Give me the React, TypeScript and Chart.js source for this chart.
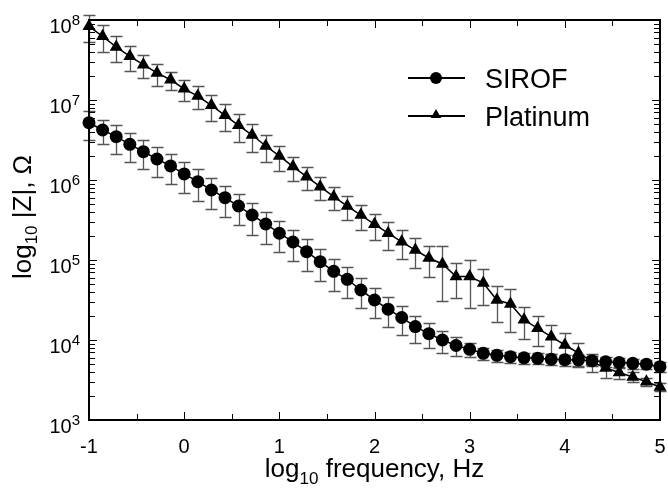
import React, { useEffect, useRef } from 'react';
import { Chart, registerables } from 'chart.js';

Chart.register(...registerables);

// log10 of frequency (Hz), 7 points per decade
const logFreq = [
  -1, -0.857, -0.714, -0.571, -0.429, -0.286, -0.143,
  0, 0.143, 0.286, 0.429, 0.571, 0.714, 0.857,
  1, 1.143, 1.286, 1.429, 1.571, 1.714, 1.857,
  2, 2.143, 2.286, 2.429, 2.571, 2.714, 2.857,
  3, 3.143, 3.286, 3.429, 3.571, 3.714, 3.857,
  4, 4.143, 4.286, 4.429, 4.571, 4.714, 4.857,
  5,
];

// |Z| in ohms
const sirofZ = [
  5.2e6, 4.22e6, 3.48e6, 2.79e6, 2.26e6, 1.83e6, 1.5e6,
  1.19e6, 9.53e5, 7.5e5, 6.01e5, 4.73e5, 3.65e5, 2.82e5,
  2.16e5, 1.68e5, 1.27e5, 9.53e4, 7.22e4, 5.74e4, 4.22e4,
  3.16e4, 2.43e4, 1.91e4, 1.47e4, 1.2e4, 1.0e4, 8530,
  7650, 6820, 6440, 6180, 5990, 5900, 5750,
  5670, 5620, 5510, 5350, 5230, 5110, 4980,
  4640,
];
// relative standard deviation (fraction of mean)
const sirofRelSD = [
  0.40, 0.33, 0.40, 0.40, 0.40, 0.40, 0.41,
  0.42, 0.42, 0.42, 0.42, 0.42, 0.43, 0.43,
  0.42, 0.42, 0.43, 0.43, 0.43, 0.42, 0.41,
  0.41, 0.41, 0.39, 0.37, 0.34, 0.31, 0.27,
  0.21, 0.18, 0.17, 0.16, 0.16, 0.16, 0.16,
  0.16, 0.16, 0.14, 0.14, 0.14, 0.14, 0.14,
  0.14,
];

const platinumZ = [
  8.34e7, 6.25e7, 4.6e7, 3.52e7, 2.76e7, 2.18e7, 1.79e7,
  1.38e7, 1.12e7, 8.59e6, 6.44e6, 4.83e6, 3.65e6, 2.66e6,
  2.0e6, 1.47e6, 1.1e6, 8.24e5, 6.18e5, 4.73e5, 3.65e5,
  2.79e5, 2.16e5, 1.69e5, 1.33e5, 1.06e5, 8.91e4, 6.22e4,
  6.22e4, 5.16e4, 3.16e4, 2.82e4, 1.79e4, 1.4e4, 1.1e4,
  8660, 6880, 5350, 4470, 3920, 3450, 3010,
  2580,
];
const platinumRelSD = [
  0.37, 0.37, 0.36, 0.345, 0.324, 0.307, 0.261,
  0.29, 0.319, 0.362, 0.366, 0.379, 0.379, 0.366,
  0.345, 0.336, 0.323, 0.323, 0.323, 0.323, 0.345,
  0.366, 0.378, 0.386, 0.41, 0.419, 0.659, 0.454,
  0.592, 0.476, 0.476, 0.553, 0.426, 0.407, 0.395,
  0.407, 0.324, 0.253, 0.257, 0.165, 0.143, 0.11,
  0.115,
];

const seriesNames = ['SIROF', 'Platinum'];
const xMajorTicks = [-1, 0, 1, 2, 3, 4, 5];
const xMinorTicks = [-0.5, 0.5, 1.5, 2.5, 3.5, 4.5];
const yDecades = [3, 4, 5, 6, 7, 8];
const xTitleParts = ['log', '10', ' frequency, Hz'];
const yTitleParts = ['log', '10', ' |Z|, \u03A9'];

const FONT = '"Liberation Sans", Arial, Helvetica, sans-serif';

const errorBarsPlugin = {
  id: 'errorBars',
  beforeDatasetsDraw(chart: any) {
    const { ctx } = chart;
    const xs = chart.scales.x;
    const ys = chart.scales.y;
    const sets: [number[], number[]][] = [
      [sirofZ, sirofRelSD],
      [platinumZ, platinumRelSD],
    ];
    ctx.save();
    ctx.strokeStyle = '#555555';
    ctx.lineWidth = 1.3;
    sets.forEach(([vals, sd]) => {
      vals.forEach((v, i) => {
        const x = Math.round(xs.getPixelForValue(logFreq[i])) + 0.5;
        const yt = Math.round(ys.getPixelForValue(v * (1 + sd[i]))) + 0.5;
        const yb = Math.round(ys.getPixelForValue(v * (1 - sd[i]))) + 0.5;
        ctx.beginPath();
        ctx.moveTo(x, yt);
        ctx.lineTo(x, yb);
        ctx.moveTo(x - 6, yt);
        ctx.lineTo(x + 6, yt);
        ctx.moveTo(x - 6, yb);
        ctx.lineTo(x + 6, yb);
        ctx.stroke();
      });
    });
    ctx.restore();
  },
};

function drawSubText(ctx: CanvasRenderingContext2D, parts: string[], cx: number, baseline: number, size: number, subSize: number, subDrop: number) {
  ctx.font = `${size}px ${FONT}`;
  const w0 = ctx.measureText(parts[0]).width;
  const w2 = ctx.measureText(parts[2]).width;
  ctx.font = `${subSize}px ${FONT}`;
  const w1 = ctx.measureText(parts[1]).width;
  const total = w0 + w1 + w2;
  let x = cx - total / 2;
  ctx.textAlign = 'left';
  ctx.textBaseline = 'alphabetic';
  ctx.font = `${size}px ${FONT}`;
  ctx.fillText(parts[0], x, baseline);
  x += w0;
  ctx.font = `${subSize}px ${FONT}`;
  ctx.fillText(parts[1], x, baseline + subDrop);
  x += w1;
  ctx.font = `${size}px ${FONT}`;
  ctx.fillText(parts[2], x, baseline);
}

const framePlugin = {
  id: 'frame',
  afterDraw(chart: any) {
    const { ctx, chartArea } = chart;
    const { left, right, top, bottom } = chartArea;
    const xs = chart.scales.x;
    const ys = chart.scales.y;
    ctx.save();
    ctx.fillStyle = '#000';
    ctx.strokeStyle = '#000';

    // ticks
    ctx.lineWidth = 1;
    ctx.beginPath();
    xMajorTicks.forEach((v) => {
      const x = Math.round(xs.getPixelForValue(v)) + 0.5;
      ctx.moveTo(x, bottom);
      ctx.lineTo(x, bottom - 8);
      ctx.moveTo(x, top);
      ctx.lineTo(x, top + 8);
    });
    xMinorTicks.forEach((v) => {
      const x = Math.round(xs.getPixelForValue(v)) + 0.5;
      ctx.moveTo(x, bottom);
      ctx.lineTo(x, bottom - 6);
      ctx.moveTo(x, top);
      ctx.lineTo(x, top + 6);
    });
    yDecades.forEach((d) => {
      for (let m = 1; m <= 9; m++) {
        const v = m * Math.pow(10, d);
        if (v > 1e8 * 1.0001) continue;
        const y = Math.round(ys.getPixelForValue(v)) + 0.5;
        const len = m === 1 ? 8 : 6;
        ctx.moveTo(left, y);
        ctx.lineTo(left + len, y);
        ctx.moveTo(right, y);
        ctx.lineTo(right - len, y);
      }
    });
    ctx.stroke();

    // frame
    ctx.lineWidth = 2;
    ctx.strokeRect(left, top, right - left, bottom - top);

    // x tick labels
    ctx.font = `20px ${FONT}`;
    ctx.textAlign = 'center';
    ctx.textBaseline = 'alphabetic';
    xMajorTicks.forEach((v) => {
      ctx.fillText(String(v), xs.getPixelForValue(v), bottom + 33);
    });

    // y tick labels 10^n
    yDecades.forEach((d) => {
      const y = ys.getPixelForValue(Math.pow(10, d));
      const rx = left - 9;
      ctx.font = `15px ${FONT}`;
      const ws = ctx.measureText(String(d)).width;
      ctx.font = `20px ${FONT}`;
      const wb = ctx.measureText('10').width;
      ctx.textAlign = 'left';
      ctx.fillText('10', rx - ws - wb, y + 13);
      ctx.font = `15px ${FONT}`;
      ctx.fillText(String(d), rx - ws, y + 5);
    });

    // axis titles
    drawSubText(ctx, xTitleParts, (left + right) / 2, 477, 26, 17, 7);
    ctx.save();
    ctx.translate(31, (top + bottom) / 2 - 3);
    ctx.rotate(-Math.PI / 2);
    drawSubText(ctx, yTitleParts, 0, 0, 26, 17, 6);
    ctx.restore();

    // legend
    const rows = [78, 116];
    rows.forEach((ry, i) => {
      ctx.lineWidth = 2;
      ctx.beginPath();
      ctx.moveTo(408, ry);
      ctx.lineTo(465, ry);
      ctx.stroke();
      ctx.beginPath();
      if (i === 0) {
        ctx.arc(436, ry, 6, 0, Math.PI * 2);
      } else {
        const r = 6;
        const cy = ry - 1;
        ctx.moveTo(436, cy - r);
        ctx.lineTo(436 + r * 0.866, cy + r * 0.5);
        ctx.lineTo(436 - r * 0.866, cy + r * 0.5);
        ctx.closePath();
      }
      ctx.fill();
      ctx.font = `27px ${FONT}`;
      ctx.textAlign = 'left';
      ctx.textBaseline = 'alphabetic';
      ctx.fillText(seriesNames[i], 485, ry + 10);
    });
    ctx.restore();
  },
};

export default function App() {
  const ref = useRef<HTMLCanvasElement>(null);
  useEffect(() => {
    const canvas = ref.current;
    if (!canvas) return;
    const chart = new Chart(canvas, {
      type: 'line',
      data: {
        datasets: [
          {
            label: seriesNames[0],
            data: logFreq.map((x, i) => ({ x, y: sirofZ[i] })),
            borderColor: '#000',
            backgroundColor: '#000',
            borderWidth: 1.5,
            pointStyle: 'circle',
            pointRadius: 6.5,
            pointBackgroundColor: '#000',
            pointBorderColor: '#000',
            pointBorderWidth: 0,
            tension: 0,
            clip: false,
          } as any,
          {
            label: seriesNames[1],
            data: logFreq.map((x, i) => ({ x, y: platinumZ[i] })),
            borderColor: '#000',
            backgroundColor: '#000',
            borderWidth: 1.5,
            pointStyle: 'triangle',
            pointRadius: 7.5,
            pointBackgroundColor: '#000',
            pointBorderColor: '#000',
            pointBorderWidth: 0,
            tension: 0,
            clip: false,
          } as any,
        ],
      },
      options: {
        responsive: false,
        animation: false,
        events: [],
        layout: { padding: { left: 89, top: 20, right: 8, bottom: 73 }, autoPadding: false } as any,
        plugins: { legend: { display: false }, tooltip: { enabled: false } },
        scales: {
          x: { type: 'linear', min: -1, max: 5, display: false },
          y: { type: 'logarithmic', min: 1000, max: 1e8, display: false },
        },
      },
      plugins: [errorBarsPlugin, framePlugin],
    });
    return () => chart.destroy();
  }, []);
  return (
    <div style={{ position: 'fixed', left: 0, top: 0, width: 668, height: 493, background: '#fff' }}>
      <canvas ref={ref} width={668} height={493} style={{ display: 'block', width: 668, height: 493 }} />
    </div>
  );
}
